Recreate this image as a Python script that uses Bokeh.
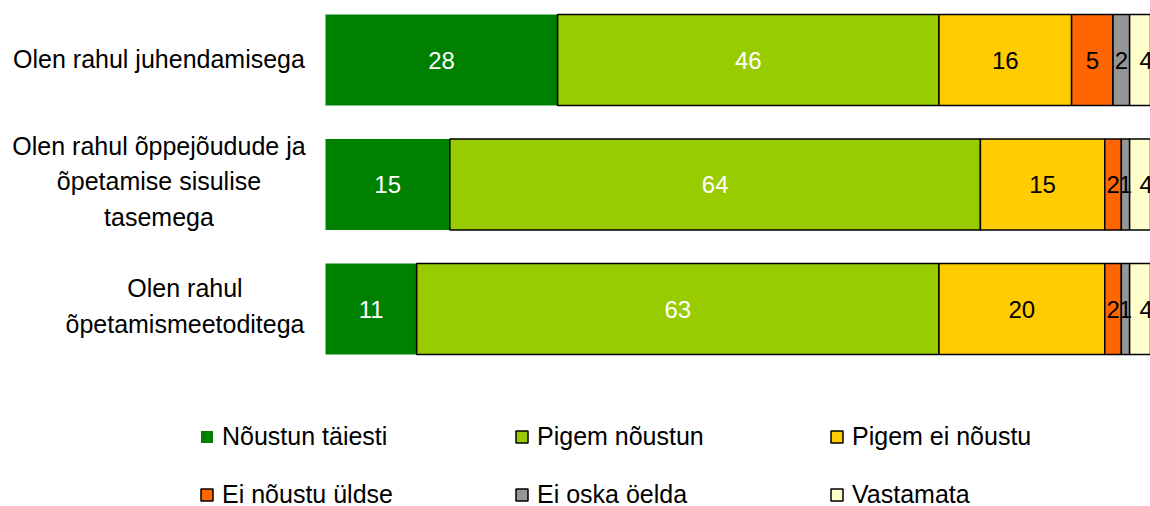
import numpy as np
from bokeh.plotting import figure
from bokeh.models import ColumnDataSource, Range1d, Legend, LegendItem
from bokeh.core.properties import value
from bokeh.embed import file_html
from bokeh.resources import INLINE

# ---------------- data ----------------
categories = [
    "Olen rahul juhendamisega",
    "Olen rahul õppejõudude ja\nõpetamise sisulise\ntasemega",
    "Olen rahul\nõpetamismeetoditega",
]
series_names = ["Nõustun täiesti", "Pigem nõustun", "Pigem ei nõustu",
                "Ei nõustu üldse", "Ei oska öelda", "Vastamata"]
noustun_taiesti = [28, 15, 11]
pigem_noustun = [46, 64, 63]
pigem_ei_noustu = [16, 15, 20]
ei_noustu_uldse = [5, 2, 2]
ei_oska_oelda = [2, 1, 1]
vastamata = [4, 4, 4]

# ---------------- styles / layout ----------------
keys = ["s0", "s1", "s2", "s3", "s4", "s5"]
colors = ["#008000", "#99CC00", "#FFCC00", "#FF6600", "#969696", "#FFFFCC"]
line_colors = [None, "black", "black", "black", "black", "black"]
label_colors = ["white", "white", "black", "black", "black", "black"]
FONT = "Liberation Sans"

W, H = 1150, 506
px_per_unit = 8.29
zero_px = 325              # canvas x of value 0
top_center_px = 59.5       # canvas y of first bar centre
row_pitch_px = 124.5
cat_label_center_px = [158.5, 158.5, 184.5]
cat_label_y_offset = [-1, -3, -3]

x0 = -zero_px / px_per_unit
x1 = (W - zero_px) / px_per_unit
y_top = -top_center_px / row_pitch_px
y_bot = (H - top_center_px) / row_pitch_px

all_series = [noustun_taiesti, pigem_noustun, pigem_ei_noustu,
              ei_noustu_uldse, ei_oska_oelda, vastamata]
ypos = list(range(len(categories)))

src = ColumnDataSource(dict(y=ypos, **{k: v for k, v in zip(keys, all_series)}))

p = figure(width=W, height=H, x_range=Range1d(x0, x1), y_range=Range1d(y_bot, y_top),
           output_backend="svg", toolbar_location=None,
           x_axis_location=None, y_axis_location=None, min_border=0)
p.grid.visible = False
p.outline_line_color = None
p.background_fill_color = "white"

renderers = p.hbar_stack(keys, y="y", height=0.73, color=colors,
                         line_color=line_colors, line_width=1.5, source=src)

# value labels
arr = np.array(all_series, dtype=float)  # series x rows
cum = np.cumsum(arr, axis=0)
lx, ly, lt, lc = [], [], [], []
for j in range(arr.shape[0]):
    for i in range(arr.shape[1]):
        lx.append(cum[j, i] - arr[j, i] / 2)
        ly.append(ypos[i])
        lt.append(str(int(arr[j, i])))
        lc.append(label_colors[j])
p.text(x="x", y="y", text="t", text_color="c",
       source=ColumnDataSource(dict(x=lx, y=ly, t=lt, c=lc)),
       text_align="center", text_baseline="middle",
       text_font=value(FONT), text_font_size="24px")

# category labels
cx = [(c - zero_px) / px_per_unit for c in cat_label_center_px]
p.text(x="x", y="y", text="t", y_offset="yo",
       source=ColumnDataSource(dict(x=cx, y=ypos, t=categories, yo=cat_label_y_offset)),
       text_align="center", text_baseline="middle",
       text_font=value(FONT), text_font_size="25px", text_line_height=1.27,
       text_color="black")

legend = Legend(items=[LegendItem(label=n, renderers=[r]) for n, r in zip(series_names, renderers)],
                orientation="horizontal", ncols=3, location=(199, -3),
                glyph_width=15, glyph_height=15, label_standoff=8, label_width=263,
                spacing=29, padding=0, margin=0, border_line_color=None,
                background_fill_alpha=0, label_text_font=FONT, label_text_font_size="25px",
                label_text_color="black")
p.add_layout(legend)

open("out.html", "w").write(file_html(p, INLINE))
